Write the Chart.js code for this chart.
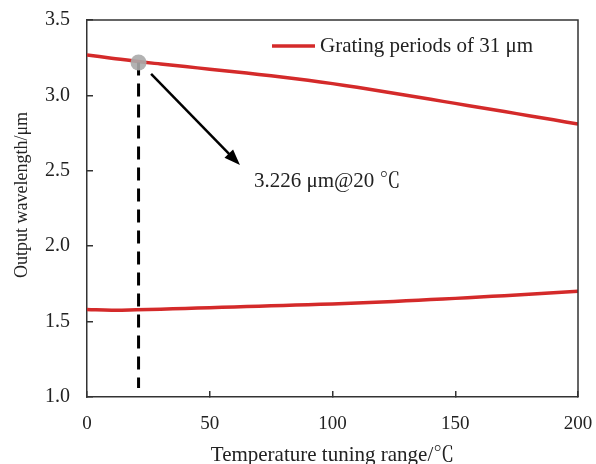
<!DOCTYPE html>
<html>
<head>
<meta charset="utf-8">
<script src="https://cdn.jsdelivr.net/npm/chart.js@4/dist/chart.umd.min.js"></script>
<style>
  html, body { margin: 0; padding: 0; background: #fff; overflow: hidden; }
</style>
</head>
<body>
<canvas id="tuning" width="596" height="464"></canvas>
<script>
// temperature (C) and output wavelength (um) for the two branches
const temps = [0, 10, 20, 30, 40, 50, 60, 70, 80, 90, 100, 110, 120, 130, 140, 150, 160, 170, 180, 190, 200]
const upperWave = [3.268, 3.247, 3.226, 3.208, 3.191, 3.174, 3.157, 3.139, 3.120, 3.100, 3.078,
  3.054, 3.028, 3.001, 2.974, 2.947, 2.920, 2.893, 2.865, 2.838, 2.810]
const lowerWave = [1.581, 1.576, 1.578, 1.582, 1.587, 1.592, 1.597, 1.602, 1.607, 1.612, 1.617,
  1.623, 1.630, 1.638, 1.646, 1.654, 1.663, 1.672, 1.681, 1.691, 1.701]

// marked operating point
const markTemp = [21, 21]
const markWave = [3.218, 1.06]
const markLabel = "3.226 μm@20 ℃"
const seriesLabel = "Grating periods of 31 μm"

const xTicks = [0, 50, 100, 150, 200]
const yTicks = [1.0, 1.5, 2.0, 2.5, 3.0, 3.5]

const RED = "#d42a2a"
const FONT = "'Liberation Serif', 'Times New Roman', 'Noto Serif CJK SC', 'Noto Sans CJK SC', serif"

function pts(xs, ys) {
  return xs.map((x, i) => ({ x: x, y: ys[i] }))
}

// frame, arrow, note and legend
const extras = {
  id: "extras",
  afterDatasetsDraw(chart) {
    const ctx = chart.ctx
    const a = chart.chartArea
    const xs = chart.scales.x
    const ys = chart.scales.y

    ctx.save()
    ctx.strokeStyle = "#333"
    ctx.lineWidth = 1.5
    ctx.beginPath()
    ctx.moveTo(a.left, a.top)
    ctx.lineTo(a.right, a.top)
    ctx.lineTo(a.right, a.bottom)
    ctx.stroke()

    // arrow
    const x1 = xs.getPixelForValue(26.1), y1 = ys.getPixelForValue(3.142)
    const x2 = xs.getPixelForValue(62.3), y2 = ys.getPixelForValue(2.538)
    const ang = Math.atan2(y2 - y1, x2 - x1)
    const head = 16
    ctx.strokeStyle = "#000"
    ctx.fillStyle = "#000"
    ctx.lineWidth = 2.5
    ctx.beginPath()
    ctx.moveTo(x1, y1)
    ctx.lineTo(x2 - Math.cos(ang) * head * 0.8, y2 - Math.sin(ang) * head * 0.8)
    ctx.stroke()
    ctx.beginPath()
    ctx.moveTo(x2, y2)
    ctx.lineTo(x2 - head * Math.cos(ang) + 6 * Math.sin(ang), y2 - head * Math.sin(ang) - 6 * Math.cos(ang))
    ctx.lineTo(x2 - head * Math.cos(ang) - 6 * Math.sin(ang), y2 - head * Math.sin(ang) + 6 * Math.cos(ang))
    ctx.closePath()
    ctx.fill()

    // note
    ctx.font = "21px " + FONT
    ctx.fillStyle = "#222"
    ctx.textBaseline = "middle"
    ctx.textAlign = "left"
    ctx.fillText(markLabel, xs.getPixelForValue(68), ys.getPixelForValue(2.426))

    // legend
    const ly = 46
    ctx.strokeStyle = RED
    ctx.lineWidth = 3.5
    ctx.beginPath()
    ctx.moveTo(272, ly)
    ctx.lineTo(315, ly)
    ctx.stroke()
    ctx.fillStyle = "#222"
    ctx.fillText(seriesLabel, 320, ly)
    ctx.restore()
  },
}

const data = {
  datasets: [
    {
      label: "marker",
      data: [{ x: markTemp[0], y: markWave[0] }],
      showLine: false,
      pointRadius: 8,
      pointBackgroundColor: "rgba(170,170,170,0.9)",
      pointBorderWidth: 0,
      order: 0,
    },
    {
      label: "guide",
      data: pts(markTemp, markWave),
      borderColor: "#000",
      borderWidth: 3,
      borderDash: [13, 8],
      pointRadius: 0,
      order: 1,
    },
    {
      label: seriesLabel,
      data: pts(temps, upperWave),
      borderColor: RED,
      borderWidth: 3.5,
      pointRadius: 0,
      tension: 0.4,
      order: 2,
    },
    {
      label: seriesLabel + " (idler)",
      data: pts(temps, lowerWave),
      borderColor: RED,
      borderWidth: 3.5,
      pointRadius: 0,
      tension: 0.4,
      order: 2,
    },
  ],
}

const config = {
  type: "line",
  data: data,
  options: {
    responsive: false,
    animation: false,
    layout: { padding: { top: 20, right: 18, left: 0, bottom: 0 } },
    plugins: { legend: { display: false }, tooltip: { enabled: false } },
    scales: {
      x: {
        type: "linear",
        min: 0,
        max: 200,
        afterFit(s) {
          s.height = 67
          s.paddingLeft = 0
          s.paddingRight = 0
        },
        afterBuildTicks(s) { s.ticks = xTicks.map((v) => ({ value: v })) },
        border: { color: "#333", width: 1.5 },
        grid: { drawOnChartArea: false, drawTicks: true, tickLength: -6, color: "#333", lineWidth: 1.5 },
        ticks: { padding: 22, color: "#222", font: { family: FONT, size: 19 } },
        title: {
          display: true,
          text: "Temperature tuning range/℃",
          color: "#222",
          font: { family: FONT, size: 21 },
          padding: { top: 0, bottom: -4 },
        },
      },
      y: {
        type: "linear",
        min: 1.0,
        max: 3.5,
        afterFit(s) {
          s.width = 87
          s.paddingTop = 0
          s.paddingBottom = 0
        },
        afterBuildTicks(s) { s.ticks = yTicks.map((v) => ({ value: v })) },
        border: { color: "#333", width: 1.5 },
        grid: { drawOnChartArea: false, drawTicks: true, tickLength: -6, color: "#333", lineWidth: 1.5 },
        ticks: {
          padding: 23,
          color: "#222",
          font: { family: FONT, size: 20 },
          callback: (v) => v.toFixed(1),
        },
        title: {
          display: true,
          text: "      Output wavelength/μm",
          color: "#222",
          font: { family: FONT, size: 18 },
          padding: { top: 11, bottom: 0 },
        },
      },
    },
  },
  plugins: [extras],
}

const myChart = new Chart(document.getElementById("tuning"), config)
</script>
</body>
</html>
